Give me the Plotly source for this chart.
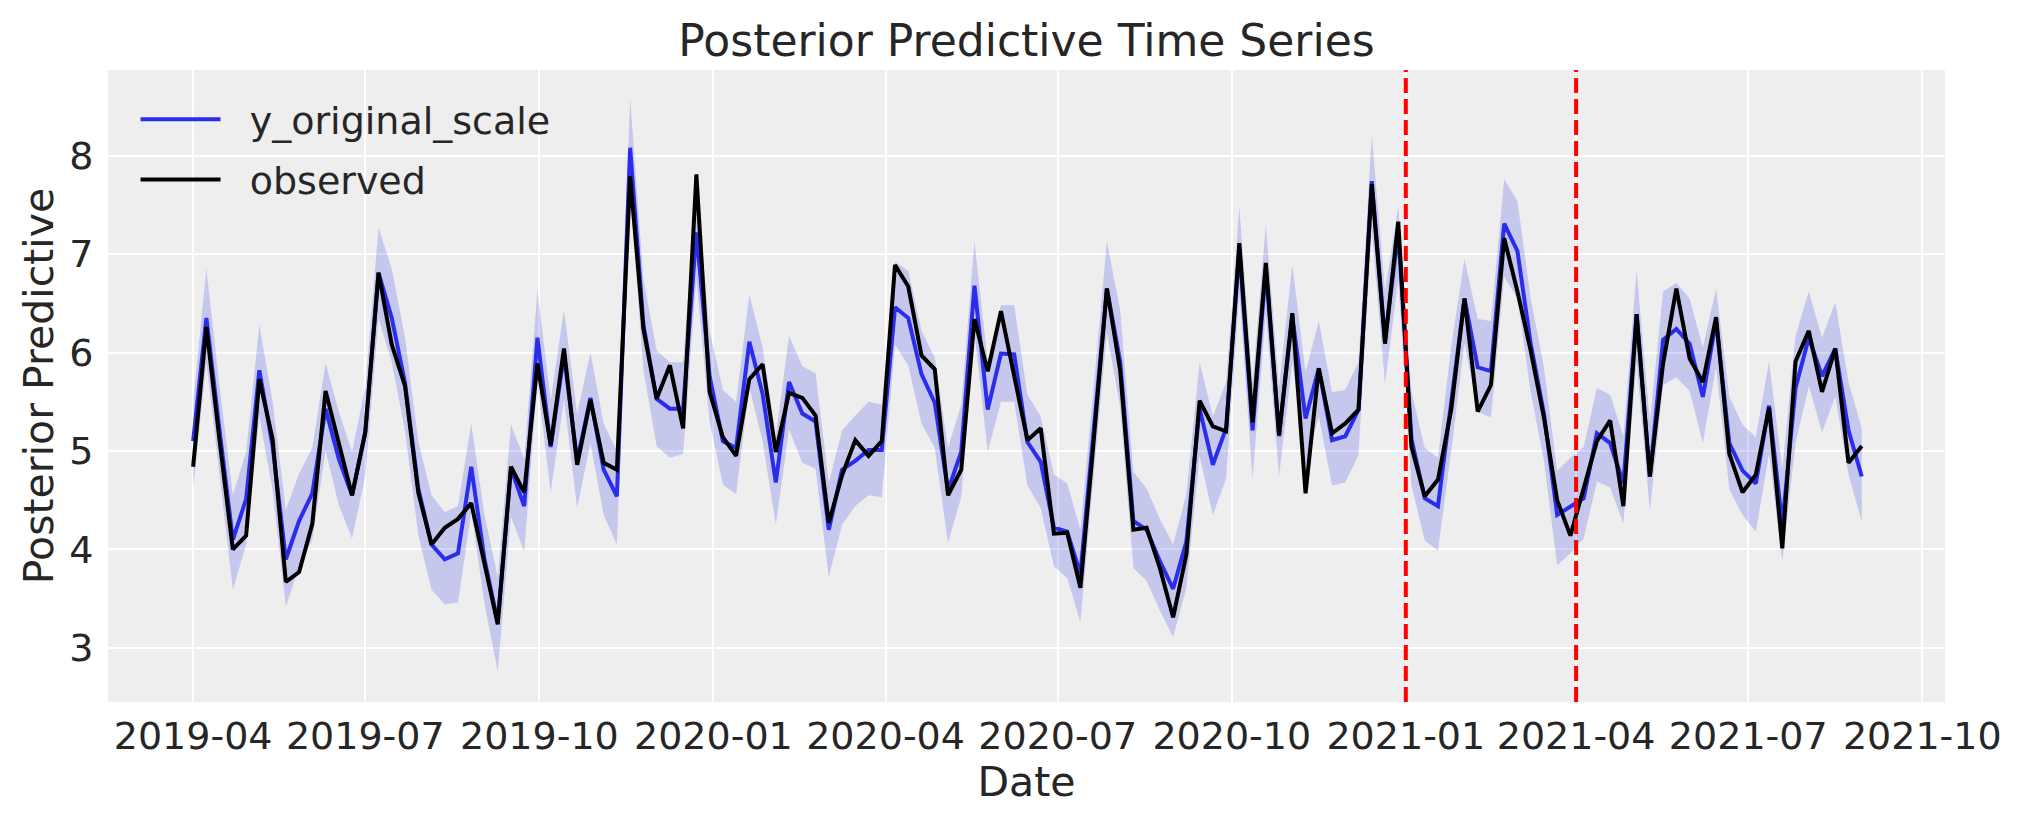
import plotly.graph_objects as go
import pandas as pd

# weekly index, first week 2019-04-01
dates = pd.date_range("2019-04-01", periods=127, freq="W-MON")

observed = [
    4.84, 6.26, 5.10, 4.00, 4.14, 5.73, 5.12, 3.67, 3.77, 4.26,
    5.61, 5.06, 4.55, 5.19, 6.81, 6.08, 5.66, 4.58, 4.05, 4.22,
    4.31, 4.47, 3.85, 3.24, 4.84, 4.58, 5.89, 5.06, 6.04, 4.86,
    5.52, 4.88, 4.81, 7.79, 6.24, 5.53, 5.87, 5.23, 7.81, 5.60,
    5.14, 4.95, 5.73, 5.88, 4.99, 5.59, 5.54, 5.36, 4.27, 4.75,
    5.11, 4.95, 5.10, 6.89, 6.67, 5.97, 5.83, 4.55, 4.81, 6.34,
    5.81, 6.42, 5.76, 5.11, 5.23, 4.16, 4.17, 3.61, 5.10, 6.65,
    5.82, 4.20, 4.22, 3.81, 3.31, 3.95, 5.51, 5.25, 5.20, 7.11,
    5.29, 6.91, 5.16, 6.40, 4.57, 5.84, 5.18, 5.28, 5.42, 7.71,
    6.09, 7.33, 5.04, 4.54, 4.71, 5.42, 6.55, 5.40, 5.67, 7.16,
    6.62, 6.02, 5.34, 4.50, 4.14, 4.63, 5.10, 5.31, 4.44, 6.39,
    4.74, 5.89, 6.65, 5.94, 5.70, 6.36, 4.97, 4.58, 4.76, 5.44,
    4.01, 5.91, 6.22, 5.60, 6.04, 4.88, 5.05,
]

y_mean = [
    5.10, 6.35, 5.20, 4.10, 4.51, 5.82, 5.05, 3.90, 4.29, 4.57,
    5.43, 4.92, 4.55, 5.19, 6.81, 6.35, 5.69, 4.62, 4.05, 3.90,
    3.96, 4.84, 3.90, 3.26, 4.82, 4.44, 6.15, 5.04, 5.98, 4.90,
    5.54, 4.81, 4.54, 8.08, 6.28, 5.53, 5.43, 5.43, 7.22, 5.76,
    5.10, 5.03, 6.11, 5.58, 4.68, 5.70, 5.38, 5.30, 4.20, 4.81,
    4.90, 5.01, 5.01, 6.46, 6.35, 5.78, 5.49, 4.60, 4.99, 6.68,
    5.42, 5.99, 5.98, 5.09, 4.89, 4.22, 4.18, 3.75, 5.20, 6.65,
    5.91, 4.29, 4.20, 3.88, 3.60, 4.08, 5.43, 4.86, 5.23, 7.05,
    5.21, 6.85, 5.15, 6.37, 5.33, 5.84, 5.11, 5.15, 5.42, 7.74,
    6.13, 7.22, 5.12, 4.52, 4.44, 5.46, 6.55, 5.85, 5.81, 7.31,
    7.03, 6.09, 5.38, 4.35, 4.43, 4.52, 5.18, 5.08, 4.67, 6.39,
    4.74, 6.13, 6.24, 6.09, 5.55, 6.32, 5.08, 4.80, 4.67, 5.46,
    4.25, 5.64, 6.15, 5.76, 6.04, 5.21, 4.74,
]

hdi_low = [
    4.62, 5.90, 4.75, 3.59, 4.05, 5.35, 4.60, 3.42, 3.82, 4.10,
    5.00, 4.45, 4.11, 4.75, 6.35, 5.90, 5.20, 4.15, 3.59, 3.44,
    3.46, 4.38, 3.45, 2.76, 4.33, 3.98, 5.70, 4.58, 5.52, 4.42,
    5.08, 4.35, 4.05, 7.62, 5.82, 5.05, 4.93, 4.97, 6.75, 5.30,
    4.66, 4.56, 5.65, 5.10, 4.25, 5.22, 4.88, 4.82, 3.72, 4.25,
    4.44, 4.55, 4.53, 6.08, 5.87, 5.28, 5.03, 4.07, 4.53, 6.20,
    4.99, 5.50, 5.50, 4.65, 4.42, 3.83, 3.71, 3.26, 4.75, 6.20,
    5.45, 3.81, 3.68, 3.38, 3.11, 3.61, 4.95, 4.35, 4.72, 6.60,
    4.72, 6.40, 4.74, 5.90, 4.85, 5.35, 4.65, 4.68, 4.96, 7.25,
    5.68, 6.75, 4.65, 4.09, 3.99, 5.00, 6.10, 5.40, 5.34, 6.77,
    6.55, 5.60, 4.90, 3.84, 3.96, 4.11, 4.69, 4.63, 4.26, 5.90,
    4.39, 5.67, 5.75, 5.61, 5.08, 5.85, 4.61, 4.35, 4.18, 4.97,
    3.88, 5.08, 5.66, 5.19, 5.55, 4.76, 4.28,
]

hdi_high = [
    5.50, 6.85, 5.65, 4.55, 4.99, 6.28, 5.50, 4.40, 4.77, 5.03,
    5.89, 5.40, 4.99, 5.65, 7.27, 6.85, 6.15, 5.10, 4.55, 4.38,
    4.44, 5.28, 4.35, 3.72, 5.27, 4.92, 6.63, 5.52, 6.43, 5.38,
    6.00, 5.28, 5.00, 8.58, 6.75, 6.02, 5.90, 5.90, 7.70, 6.22,
    5.62, 5.50, 6.59, 6.05, 5.15, 6.17, 5.86, 5.79, 4.68, 5.21,
    5.36, 5.50, 5.47, 6.92, 6.83, 6.22, 5.95, 5.03, 5.47, 7.13,
    5.90, 6.48, 6.48, 5.57, 5.35, 4.76, 4.67, 4.20, 5.65, 7.13,
    6.43, 4.79, 4.62, 4.31, 4.05, 4.56, 5.90, 5.35, 5.70, 7.47,
    5.70, 7.30, 5.65, 6.89, 5.80, 6.32, 5.60, 5.62, 5.91, 8.21,
    6.62, 7.48, 5.60, 5.03, 4.93, 6.06, 6.95, 6.34, 6.32, 7.76,
    7.54, 6.55, 5.85, 4.80, 4.93, 5.04, 5.64, 5.57, 5.15, 6.83,
    5.30, 6.62, 6.71, 6.55, 6.05, 6.65, 5.55, 5.27, 5.14, 5.91,
    4.82, 6.17, 6.62, 6.15, 6.51, 5.70, 5.23,
]

split_dates = ["2021-01-01", "2021-04-01"]

TEXT = "#262626"
FONT = "DejaVu Sans"
NB = "\u00a0\u00a0"  # a bit more room between legend line and label

fig = go.Figure()
# hdi band
fig.add_trace(go.Scatter(x=dates, y=hdi_low, mode="lines", line=dict(width=0),
                         showlegend=False, hoverinfo="skip", legendgroup="band"))
fig.add_trace(go.Scatter(x=dates, y=hdi_high, mode="lines", line=dict(width=0),
                         fill="tonexty", fillcolor="rgba(42,46,236,0.2)",
                         showlegend=False, hoverinfo="skip", legendgroup="band"))
fig.add_trace(go.Scatter(x=dates, y=y_mean, mode="lines", name=NB + "y_original_scale",
                         legendgroup="pred", line=dict(color="#2a2eec", width=4)))
fig.add_trace(go.Scatter(x=dates, y=observed, mode="lines", name=NB + "observed",
                         legendgroup="obs", line=dict(color="black", width=4)))

for d in split_dates:
    fig.add_vline(x=pd.Timestamp(d).timestamp() * 1000, layer="above",
                  line=dict(color="red", width=4, dash="15px,6px"))

# page body adds 8px offset, so the figure is 8px smaller than the window
fig.update_layout(
    width=2015, height=815,
    paper_bgcolor="white", plot_bgcolor="#eeeeee",
    margin=dict(l=100, r=78, t=62, b=121),
    font=dict(family=FONT, color=TEXT, size=38),
    title=dict(text="Posterior Predictive Time Series", xref="paper", x=0.5,
               xanchor="center", y=0.96, yanchor="middle",
               font=dict(size=44, color=TEXT)),
    legend=dict(x=0.015, y=0.9715, xanchor="left", yanchor="top",
                bgcolor="rgba(0,0,0,0)", font=dict(size=38, color=TEXT),
                itemwidth=80, traceorder="grouped", tracegroupgap=8),
)
fig.update_xaxes(
    range=["2019-02-15", "2021-10-13"],
    dtick="M3", tick0="2019-01-01", tickformat="%Y-%m",
    showgrid=True, gridcolor="white", gridwidth=2, zeroline=False,
    showline=False, ticks="", ticklabelstandoff=8,
    tickfont=dict(size=38, color=TEXT),
    title=dict(text="Date", font=dict(size=41, color=TEXT), standoff=8),
)
fig.update_yaxes(
    range=[2.45, 8.87], dtick=1, tick0=0,
    showgrid=True, gridcolor="white", gridwidth=2, zeroline=False,
    showline=False, ticks="outside", ticklen=6, tickcolor="rgba(0,0,0,0)",
    tickfont=dict(size=38, color=TEXT),
    title=dict(text="Posterior Predictive", font=dict(size=41, color=TEXT), standoff=2),
)

fig.write_html("out.html")
